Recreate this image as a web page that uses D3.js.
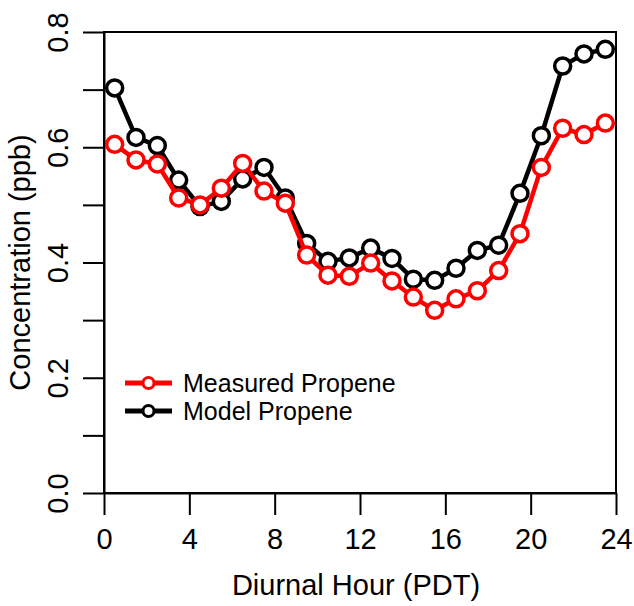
<!DOCTYPE html>
<html>
<head>
<meta charset="utf-8">
<script src="https://cdn.jsdelivr.net/npm/d3@7"></script>
<style>
  body { margin: 0; background: #fff; }
  svg text { font-family: "Liberation Sans", Arial, sans-serif; fill: #000; }
</style>
</head>
<body>
<svg id="chart" width="634" height="606"></svg>
<script>
// diurnal hour bins (mid-hour)
const hours = [0.5, 1.5, 2.5, 3.5, 4.5, 5.5, 6.5, 7.5, 8.5, 9.5, 10.5, 11.5,
               12.5, 13.5, 14.5, 15.5, 16.5, 17.5, 18.5, 19.5, 20.5, 21.5, 22.5, 23.5];
const measured = [0.605, 0.578, 0.571, 0.512, 0.500, 0.529, 0.572, 0.524, 0.503, 0.413, 0.378, 0.376,
                  0.399, 0.368, 0.340, 0.317, 0.337, 0.351, 0.386, 0.450, 0.565, 0.633, 0.622, 0.642];
const model = [0.703, 0.617, 0.603, 0.543, 0.497, 0.506, 0.545, 0.565, 0.512, 0.433, 0.402, 0.408,
               0.425, 0.407, 0.371, 0.369, 0.390, 0.421, 0.430, 0.520, 0.620, 0.741, 0.762, 0.770];
const xTicks = [0, 4, 8, 12, 16, 20, 24];
const yTicks = [0, 0.1, 0.2, 0.3, 0.4, 0.5, 0.6, 0.7, 0.8];
const yLabels = ['0.0', '', '0.2', '', '0.4', '', '0.6', '', '0.8'];

const svg = d3.select('#chart');
const plotLeft = 104, plotRight = 616, plotTop = 32, plotBottom = 493;

let x = d3.scaleLinear().domain([0, 24]).range([plotLeft, plotRight]);
let y = d3.scaleLinear().domain([0, 0.8]).range([plotBottom, plotTop]);

// box
svg.append('rect')
  .attr('x', plotLeft).attr('y', plotTop)
  .attr('width', plotRight - plotLeft).attr('height', plotBottom - plotTop)
  .attr('fill', 'none').attr('stroke', '#000').attr('stroke-width', 2);

// x axis
const gx = svg.append('g')
  .attr('transform', `translate(0,${plotBottom})`)
  .call(d3.axisBottom(x).tickValues(xTicks).tickSize(22).tickSizeOuter(0).tickFormat(d3.format('d')));
gx.select('.domain').attr('stroke-width', 2);
gx.selectAll('.tick line').attr('stroke-width', 2);
gx.selectAll('.tick text')
  .attr('y', 56).attr('dy', null)
  .style('font-size', '29px');

// y axis
const gy = svg.append('g')
  .attr('transform', `translate(${plotLeft},0)`)
  .call(d3.axisLeft(y).tickValues(yTicks).tickSize(21).tickSizeOuter(0));
gy.select('.domain').attr('stroke-width', 2);
gy.selectAll('.tick line').attr('stroke-width', 2);
gy.selectAll('.tick text').remove();
gy.selectAll('.tick')
  .append('text')
  .attr('transform', 'translate(-36,0) rotate(-90)')
  .attr('text-anchor', 'middle')
  .style('font-size', '29px')
  .text((d, i) => yLabels[i]);

// axis titles
svg.append('text')
  .attr('x', (plotLeft + plotRight) / 2 - 4).attr('y', 595)
  .attr('text-anchor', 'middle')
  .style('font-size', '29px')
  .text('Diurnal Hour (PDT)');

svg.append('text')
  .attr('transform', `translate(30,${(plotTop + plotBottom) / 2}) rotate(-90)`)
  .attr('text-anchor', 'middle')
  .style('font-size', '29px')
  .text('Concentration (ppb)');

// series: model first, measured on top
const series = [
  { name: 'Model Propene', values: model, color: '#000000' },
  { name: 'Measured Propene', values: measured, color: '#ff0000' }
];

const line = d3.line()
  .x((d, i) => x(hours[i]))
  .y(d => y(d));

series.forEach(s => {
  svg.append('path')
    .datum(s.values)
    .attr('fill', 'none')
    .attr('stroke', s.color)
    .attr('stroke-width', 4.5)
    .attr('stroke-linejoin', 'round')
    .attr('d', line);

  svg.append('g')
    .selectAll('circle')
    .data(s.values)
    .join('circle')
    .attr('cx', (d, i) => x(hours[i]))
    .attr('cy', d => y(d))
    .attr('r', 8)
    .attr('fill', '#fff')
    .attr('stroke', s.color)
    .attr('stroke-width', 3.5);
});

// legend
const legendItems = [
  { name: 'Measured Propene', color: '#ff0000', ly: 383 },
  { name: 'Model Propene', color: '#000000', ly: 411 }
];
const lg = svg.append('g');
legendItems.forEach(l => {
  lg.append('line')
    .attr('x1', 125).attr('x2', 172)
    .attr('y1', l.ly).attr('y2', l.ly)
    .attr('stroke', l.color).attr('stroke-width', 5);
  lg.append('circle')
    .attr('cx', 148.5).attr('cy', l.ly).attr('r', 5.5)
    .attr('fill', '#fff').attr('stroke', l.color).attr('stroke-width', 3);
  lg.append('text')
    .attr('x', 183).attr('y', l.ly + 9)
    .style('font-size', '25px')
    .text(l.name);
});
</script>
</body>
</html>
